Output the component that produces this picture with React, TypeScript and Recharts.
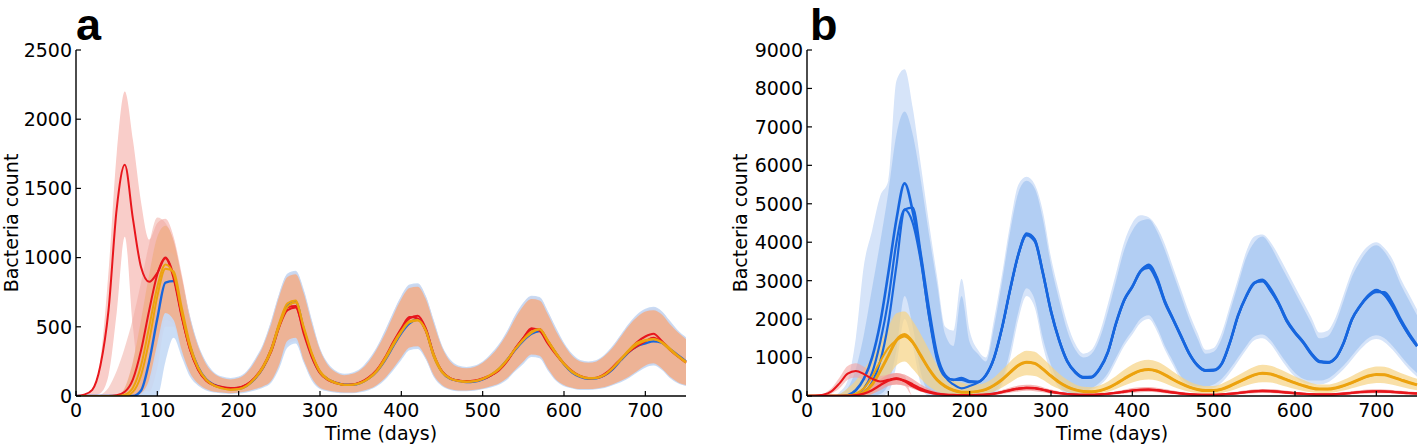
import { ComposedChart, Line, Area, XAxis, YAxis } from "recharts";

// sampling days (every 10 days)
const days = [
  0, 10, 20, 30, 40, 50, 60, 70, 80, 90,
  100, 110, 120, 130, 140, 150, 160, 170, 180, 190,
  200, 210, 220, 230, 240, 250, 260, 270, 280, 290,
  300, 310, 320, 330, 340, 350, 360, 370, 380, 390,
  400, 410, 420, 430, 440, 450, 460, 470, 480, 490,
  500, 510, 520, 530, 540, 550, 560, 570, 580, 590,
  600, 610, 620, 630, 640, 650, 660, 670, 680, 690,
  700, 710, 720, 730, 740, 750,
];

const xTicks = [0, 100, 200, 300, 400, 500, 600, 700];
const aYTicks = [0, 500, 1000, 1500, 2000, 2500];
const bYTicks = [0, 1000, 2000, 3000, 4000, 5000, 6000, 7000, 8000, 9000];

// ---- panel a: lines ----
const aRed1 = [
  0, 10, 45, 220, 620, 1350, 1670, 1280, 930, 825,
  890, 995, 850, 570, 340, 195, 115, 80, 65, 58,
  62, 85, 135, 215, 340, 520, 640, 650, 450, 280,
  165, 115, 92, 80, 82, 98, 130, 185, 270, 380,
  480, 560, 580, 490, 300, 180, 130, 112, 108, 112,
  128, 150, 185, 250, 340, 420, 480, 485, 400, 310,
  235, 180, 145, 130, 130, 150, 200, 265, 330, 390,
  430, 450, 400, 340, 290, 245,
];
const aRed2 = [
  0, 0, 0, 0, 0, 5, 30, 120, 330, 620,
  880, 1000, 870, 580, 340, 190, 110, 75, 60, 55,
  60, 82, 128, 205, 320, 500, 620, 640, 470, 300,
  175, 120, 95, 82, 84, 100, 135, 190, 280, 390,
  490, 570, 560, 470, 290, 175, 128, 110, 105, 108,
  122, 148, 190, 255, 345, 420, 490, 470, 380, 300,
  230, 175, 142, 128, 132, 160, 210, 270, 320, 360,
  395, 420, 390, 335, 285, 240,
];
const aBlue = [
  0, 0, 0, 0, 0, 0, 0, 0, 40, 250,
  560, 820, 830, 600, 360, 210, 120, 80, 60, 50,
  52, 75, 125, 205, 330, 510, 650, 680, 480, 290,
  170, 120, 95, 82, 82, 95, 128, 180, 260, 360,
  455, 525, 555, 480, 290, 175, 125, 110, 100, 104,
  120, 150, 195, 260, 335, 400, 450, 470, 390, 310,
  230, 170, 138, 125, 128, 150, 195, 260, 320, 360,
  380, 395, 385, 340, 295, 250,
];
const aYellow1 = [
  0, 0, 0, 0, 0, 0, 10, 60, 220, 500,
  790, 950, 880, 600, 350, 200, 115, 75, 55, 45,
  50, 75, 130, 215, 340, 530, 670, 690, 490, 300,
  170, 118, 92, 80, 82, 96, 130, 185, 275, 380,
  470, 540, 550, 470, 280, 170, 125, 108, 102, 106,
  122, 152, 192, 258, 340, 405, 455, 480, 395, 305,
  228, 172, 140, 126, 130, 155, 205, 270, 335, 385,
  405, 410, 385, 335, 285, 240,
];
const aYellow2 = [
  0, 0, 0, 0, 0, 0, 0, 30, 150, 400,
  720, 920, 900, 640, 380, 210, 120, 75, 55, 45,
  48, 72, 125, 205, 325, 505, 645, 675, 500, 310,
  180, 122, 95, 82, 82, 94, 125, 178, 262, 365,
  462, 532, 545, 478, 300, 178, 128, 110, 104, 108,
  125, 155, 198, 262, 338, 410, 465, 485, 405, 315,
  235, 178, 145, 130, 132, 152, 200, 262, 325, 372,
  398, 412, 392, 345, 292, 248,
];

// ---- panel a: bands ----
const aPinkLo = [
  0, 0, 0, 20, 150, 600, 1150, 500, 50, 30,
  200, 500, 500, 300, 150, 80, 45, 30, 25, 20,
  25, 35, 50, 70, 110, 220, 380, 400, 250, 120,
  55, 38, 28, 24, 24, 32, 48, 78, 125, 195,
  270, 340, 350, 270, 140, 75, 48, 38, 38, 42,
  52, 68, 88, 125, 185, 240, 290, 280, 190, 115,
  75, 58, 48, 48, 52, 62, 82, 105, 135, 175,
  210, 225, 195, 135, 95, 75,
];
const aPinkHi = [
  0, 10, 40, 260, 900, 1750, 2200, 1850, 1400, 1130,
  1250, 1280, 1150, 880, 580, 370, 240, 165, 135, 125,
  135, 175, 260, 370, 540, 740, 880, 900, 760, 540,
  340, 230, 175, 155, 165, 195, 260, 350, 470, 600,
  720, 800, 810, 720, 540, 360, 260, 215, 205, 215,
  245, 300, 370, 465, 580, 670, 720, 710, 610, 490,
  380, 300, 255, 245, 255, 295, 360, 440, 520, 585,
  625, 640, 610, 540, 470, 420,
];
const aSalmonLo = [
  0, 0, 0, 0, 0, 0, 0, 0, 10, 80,
  300, 550, 520, 320, 160, 85, 48, 30, 24, 20,
  24, 32, 46, 66, 105, 215, 370, 395, 250, 120,
  58, 38, 28, 24, 25, 34, 50, 80, 128, 198,
  275, 345, 355, 275, 145, 78, 50, 40, 40, 44,
  54, 70, 90, 128, 188, 245, 295, 285, 195, 118,
  78, 60, 50, 50, 54, 64, 84, 108, 138, 178,
  215, 230, 198, 138, 98, 78,
];
const aSalmonHi = [
  0, 0, 0, 10, 60, 180, 350, 560, 820, 1100,
  1290, 1250, 1120, 860, 570, 365, 235, 162, 132, 122,
  132, 172, 255, 365, 530, 730, 870, 890, 750, 530,
  335, 225, 172, 152, 162, 192, 255, 345, 462, 590,
  710, 790, 800, 712, 530, 355, 255, 212, 202, 212,
  242, 295, 365, 458, 570, 662, 712, 702, 600, 480,
  375, 295, 252, 242, 252, 292, 355, 435, 515, 578,
  618, 630, 600, 530, 462, 412,
];
const aBlueLo = [
  0, 0, 0, 0, 0, 0, 0, 0, 0, 0,
  0, 250, 420, 280, 140, 75, 40, 25, 18, 15,
  18, 26, 40, 60, 95, 200, 350, 380, 240, 110,
  50, 32, 24, 20, 20, 28, 42, 70, 118, 185,
  260, 330, 340, 265, 135, 70, 44, 35, 35, 38,
  48, 62, 82, 118, 178, 232, 282, 272, 185, 110,
  70, 54, 44, 44, 48, 58, 78, 100, 130, 170,
  205, 220, 190, 130, 92, 72,
];
const aBlueHi = [
  0, 0, 0, 0, 0, 0, 0, 0, 120, 450,
  850, 1050, 1020, 820, 580, 375, 245, 170, 140, 130,
  140, 180, 265, 375, 545, 745, 885, 905, 770, 550,
  345, 235, 180, 160, 170, 200, 265, 355, 475, 605,
  725, 805, 815, 725, 545, 365, 265, 220, 210, 220,
  250, 305, 375, 470, 585, 675, 725, 715, 615, 495,
  385, 305, 260, 250, 260, 300, 365, 445, 525, 590,
  630, 645, 615, 545, 475, 425,
];
const aMainLo = [
  0, 0, 0, 0, 0, 0, 0, 0, 20, 120,
  380, 600, 550, 330, 170, 90, 50, 30, 25, 20,
  25, 35, 50, 70, 110, 230, 400, 420, 260, 130,
  60, 40, 30, 25, 25, 35, 50, 80, 130, 200,
  280, 350, 360, 280, 150, 80, 50, 40, 40, 45,
  55, 70, 90, 130, 190, 250, 300, 290, 200, 120,
  80, 60, 50, 50, 55, 65, 85, 110, 140, 180,
  220, 236, 200, 140, 100, 80,
];
const aMainHi = [
  0, 0, 0, 0, 0, 0, 60, 250, 550, 880,
  1150, 1230, 1120, 850, 560, 360, 230, 160, 130, 120,
  130, 170, 250, 360, 520, 720, 860, 880, 740, 520,
  330, 220, 170, 150, 160, 190, 250, 340, 450, 580,
  700, 780, 790, 700, 520, 350, 250, 210, 200, 210,
  240, 290, 360, 450, 560, 650, 700, 690, 590, 470,
  370, 290, 250, 240, 250, 290, 350, 430, 510, 570,
  610, 620, 590, 520, 460, 410,
];

// ---- panel b: lines ----
const bBlue1 = [
  0, 0, 0, 0, 0, 20, 150, 450, 1000, 1900,
  3200, 4600, 5530, 4800, 3600, 2100, 950, 500, 420, 470,
  380, 370, 550, 1000, 1800, 2800, 3700, 4200, 4050, 3200,
  2200, 1450, 900, 620, 490, 500, 720, 1150, 1900, 2500,
  2850, 3250, 3380, 3050, 2450, 2000, 1550, 1100, 800, 670,
  680, 850, 1400, 2100, 2600, 2950, 3000, 2750, 2400, 1950,
  1650, 1400, 1100, 900, 880, 1000, 1400, 2000, 2350, 2600,
  2730, 2650, 2350, 1950, 1600, 1300,
];
const bBlue2 = [
  0, 0, 0, 0, 0, 0, 40, 200, 600, 1400,
  2500, 4000, 4850, 4500, 3500, 2100, 1000, 500, 300, 200,
  260, 350, 530, 980, 1780, 2780, 3680, 4230, 4080, 3230,
  2230, 1470, 920, 630, 480, 490, 700, 1130, 1880, 2480,
  2830, 3230, 3420, 3100, 2480, 2020, 1570, 1120, 810, 660,
  670, 840, 1380, 2080, 2580, 2930, 3030, 2800, 2430, 1980,
  1670, 1420, 1120, 910, 870, 990, 1380, 1980, 2330, 2580,
  2700, 2700, 2420, 2000, 1640, 1330,
];
const bBlue3 = [
  0, 0, 0, 0, 0, 0, 20, 100, 350, 900,
  1900, 3400, 4850, 4900, 3700, 2300, 1100, 550, 420, 420,
  360, 360, 540, 990, 1790, 2790, 3690, 4180, 4020, 3180,
  2180, 1440, 890, 600, 470, 480, 710, 1140, 1890, 2490,
  2840, 3240, 3330, 3000, 2420, 1980, 1530, 1090, 790, 650,
  660, 830, 1390, 2090, 2590, 2940, 2980, 2730, 2380, 1930,
  1630, 1380, 1080, 880, 860, 980, 1390, 1990, 2340, 2620,
  2760, 2620, 2320, 1930, 1580, 1290,
];
const bYellow1 = [
  0, 0, 0, 0, 0, 0, 30, 100, 300, 650,
  1050, 1450, 1600, 1400, 1050, 700, 420, 250, 150, 100,
  100, 120, 170, 280, 430, 620, 800, 880, 850, 700,
  520, 360, 240, 160, 120, 110, 140, 210, 320, 450,
  570, 660, 690, 650, 550, 430, 320, 230, 170, 140,
  140, 180, 260, 360, 460, 550, 590, 570, 500, 420,
  340, 270, 210, 180, 180, 210, 270, 350, 440, 520,
  560, 550, 490, 420, 350, 290,
];
const bYellow2 = [
  0, 0, 0, 0, 0, 10, 60, 200, 500, 900,
  1250, 1450, 1550, 1380, 1040, 700, 420, 250, 150, 100,
  95, 115, 165, 275, 425, 610, 790, 870, 845, 705,
  525, 365, 245, 165, 122, 112, 138, 205, 315, 445,
  565, 655, 680, 645, 555, 435, 325, 235, 172, 142,
  138, 176, 255, 355, 455, 545, 585, 575, 505, 425,
  345, 275, 215, 182, 178, 205, 265, 345, 435, 515,
  555, 555, 495, 425, 355, 295,
];
const bRed1 = [
  0, 5, 30, 120, 330, 580, 650, 570, 450, 380,
  420, 460, 380, 250, 150, 90, 50, 35, 25, 20,
  20, 25, 38, 62, 105, 155, 195, 215, 205, 165,
  115, 78, 52, 36, 30, 30, 42, 58, 84, 115,
  145, 165, 170, 155, 122, 92, 66, 46, 35, 30,
  30, 42, 58, 78, 104, 124, 134, 128, 112, 92,
  72, 56, 46, 40, 40, 46, 62, 84, 104, 118,
  124, 120, 108, 92, 77, 66,
];
const bRed2 = [
  0, 0, 0, 0, 0, 0, 20, 60, 150, 280,
  400, 450, 400, 300, 190, 110, 60, 35, 25, 20,
  20, 25, 35, 60, 100, 150, 190, 210, 200, 160,
  110, 75, 50, 35, 30, 30, 40, 55, 80, 110,
  140, 160, 165, 150, 120, 90, 65, 45, 35, 30,
  30, 40, 55, 75, 100, 120, 130, 125, 110, 90,
  70, 55, 45, 40, 40, 45, 60, 80, 100, 115,
  120, 118, 105, 90, 75, 65,
];

// ---- panel b: bands ----
const bBlueOutLo = [
  0, 0, 0, 0, 0, 0, 0, 0, 0, 0,
  100, 800, 2000, 1300, 300, 0, 0, 0, 0, 0,
  0, 0, 0, 50, 300, 1000, 2000, 2600, 2300, 1300,
  600, 200, 50, 0, 50, 150, 280, 500, 900, 1300,
  1600, 1900, 2000, 1700, 1200, 800, 400, 200, 150, 150,
  200, 350, 600, 900, 1200, 1450, 1500, 1350, 1050, 750,
  500, 350, 300, 300, 350, 500, 700, 950, 1200, 1400,
  1480, 1400, 1200, 950, 700, 500,
];
const bBlueOutHi = [
  0, 0, 0, 0, 100, 400, 1500, 3400, 4300, 5200,
  5600, 8200, 8500, 7500, 6000, 4500, 3100, 1800, 1700, 3050,
  1700, 1200, 1000, 2000, 3200, 4500, 5500, 5700, 5500, 4800,
  3600, 2700, 1900, 1350, 1100, 1200, 1650, 2400, 3200, 4000,
  4500, 4700, 4650, 4400, 3950, 3350, 2750, 2150, 1650, 1200,
  1250, 1650, 2350, 3050, 3750, 4150, 4200, 4000, 3650, 3250,
  2850, 2450, 2050, 1650, 1700, 2050, 2650, 3250, 3650, 3900,
  4000, 3850, 3550, 3050, 2650, 2250,
];
const bBlueInLo = [
  0, 0, 0, 0, 0, 0, 0, 0, 0, 50,
  300, 1200, 2600, 1800, 600, 100, 0, 0, 0, 0,
  0, 0, 0, 100, 400, 1200, 2200, 2800, 2500, 1500,
  800, 300, 100, 50, 100, 200, 350, 600, 1000, 1400,
  1700, 2000, 2100, 1800, 1300, 900, 500, 300, 250, 250,
  300, 450, 700, 1000, 1300, 1550, 1600, 1450, 1150, 850,
  600, 450, 400, 400, 450, 600, 800, 1050, 1300, 1500,
  1580, 1500, 1300, 1050, 800, 600,
];
const bBlueInHi = [
  0, 0, 0, 0, 50, 200, 700, 1600, 2800, 4000,
  5300, 6800, 7400, 6800, 5600, 4200, 2900, 1600, 1300, 2600,
  1400, 1100, 900, 1800, 3000, 4300, 5300, 5600, 5400, 4600,
  3400, 2500, 1700, 1200, 1000, 1100, 1500, 2200, 3000, 3800,
  4300, 4550, 4600, 4300, 3800, 3200, 2600, 2000, 1500, 1100,
  1150, 1500, 2200, 2900, 3600, 4000, 4150, 3900, 3500, 3100,
  2700, 2300, 1900, 1500, 1550, 1900, 2500, 3100, 3500, 3800,
  3920, 3750, 3400, 2900, 2500, 2100,
];
const bYellowLo = [
  0, 0, 0, 0, 0, 0, 0, 0, 50, 250,
  500, 800, 900, 700, 450, 250, 120, 60, 30, 20,
  20, 30, 60, 120, 220, 350, 480, 540, 520, 420,
  280, 180, 110, 70, 50, 50, 70, 110, 180, 270,
  350, 410, 430, 400, 330, 240, 170, 110, 80, 60,
  60, 80, 130, 200, 270, 330, 360, 350, 300, 240,
  180, 130, 100, 80, 80, 100, 140, 200, 260, 310,
  340, 330, 290, 240, 190, 150,
];
const bYellowHi = [
  0, 0, 0, 0, 50, 200, 400, 700, 1000, 1400,
  1800, 2150, 2200, 1950, 1600, 1200, 800, 550, 400, 350,
  300, 300, 350, 480, 680, 900, 1080, 1180, 1150, 980,
  780, 580, 420, 300, 240, 230, 280, 380, 520, 680,
  820, 910, 940, 900, 790, 640, 500, 380, 300, 260,
  260, 320, 420, 540, 660, 760, 810, 790, 710, 610,
  510, 420, 340, 300, 300, 340, 420, 520, 630, 720,
  770, 760, 690, 600, 520, 450,
];
const bRedLo = [
  0, 0, 0, 0, 0, 0, 0, 0, 50, 150,
  260, 300, 270, 190, 110, 60, 30, 15, 10, 8,
  8, 10, 15, 30, 55, 90, 120, 135, 125, 95,
  60, 40, 25, 15, 12, 12, 18, 28, 45, 65,
  85, 100, 105, 95, 72, 52, 35, 22, 15, 12,
  12, 18, 28, 42, 58, 72, 80, 76, 65, 50,
  38, 28, 22, 18, 18, 22, 32, 45, 58, 68,
  72, 70, 62, 50, 42, 36,
];
const bRedHi = [
  0, 0, 0, 0, 0, 0, 60, 150, 280, 430,
  560, 600, 560, 440, 300, 190, 110, 70, 50, 40,
  40, 50, 65, 100, 155, 220, 270, 290, 280, 230,
  170, 120, 85, 62, 55, 55, 70, 90, 125, 165,
  205, 230, 235, 215, 180, 140, 105, 78, 62, 55,
  55, 70, 92, 120, 150, 175, 185, 180, 160, 135,
  110, 88, 72, 65, 65, 75, 95, 125, 150, 168,
  175, 172, 155, 135, 115, 100,
];
const bRedEarlyLo = [
  0, 0, 10, 60, 200, 420, 480, 420, 300, 250,
  280, 300, 260, 0, 0, 0, 0, 0, 0, 0,
  0, 0, 0, 0, 0, 0, 0, 0, 0, 0,
  0, 0, 0, 0, 0, 0, 0, 0, 0, 0,
  0, 0, 0, 0, 0, 0, 0, 0, 0, 0,
  0, 0, 0, 0, 0, 0, 0, 0, 0, 0,
  0, 0, 0, 0, 0, 0, 0, 0, 0, 0,
  0, 0, 0, 0, 0, 0,
];
const bRedEarlyHi = [
  0, 10, 60, 200, 480, 780, 850, 760, 620, 520,
  560, 600, 520, 0, 0, 0, 0, 0, 0, 0,
  0, 0, 0, 0, 0, 0, 0, 0, 0, 0,
  0, 0, 0, 0, 0, 0, 0, 0, 0, 0,
  0, 0, 0, 0, 0, 0, 0, 0, 0, 0,
  0, 0, 0, 0, 0, 0, 0, 0, 0, 0,
  0, 0, 0, 0, 0, 0, 0, 0, 0, 0,
  0, 0, 0, 0, 0, 0,
];

const RED = "#e8161c";
const BLUE = "#1766de";
const YELLOW = "#eca20e";
const FONT = "DejaVu Sans, Verdana, sans-serif";
const TICK_LEN = 5;

const rowsA = days.map((day, i) => ({
  day,
  red1: aRed1[i],
  red2: aRed2[i],
  blue: aBlue[i],
  yellow1: aYellow1[i],
  yellow2: aYellow2[i],
  pink: [aPinkLo[i], aPinkHi[i]],
  salmon: [aSalmonLo[i], aSalmonHi[i]],
  blueBand: [aBlueLo[i], aBlueHi[i]],
  main: [aMainLo[i], aMainHi[i]],
}));

const rowsB = days.map((day, i) => ({
  day,
  blue1: bBlue1[i],
  blue2: bBlue2[i],
  blue3: bBlue3[i],
  yellow1: bYellow1[i],
  yellow2: bYellow2[i],
  red1: bRed1[i],
  red2: bRed2[i],
  blueOut: [bBlueOutLo[i], bBlueOutHi[i]],
  blueIn: [bBlueInLo[i], bBlueInHi[i]],
  yellowBand: [bYellowLo[i], bYellowHi[i]],
  redBand: [bRedLo[i], bRedHi[i]],
  redEarly: [bRedEarlyLo[i], bRedEarlyHi[i]],
}));

const LeftTick = (p: any) => (
  <g>
    <line x1={p.x} x2={p.x + TICK_LEN} y1={p.y} y2={p.y} stroke="#000" strokeWidth={1.2} />
    <text x={p.x - 4} y={p.y} dy="0.36em" textAnchor="end" fontSize={19} fontFamily={FONT} fill="#000">
      {p.payload.value}
    </text>
  </g>
);
const RightTick = (p: any) => (
  <line x1={p.x} x2={p.x - TICK_LEN} y1={p.y} y2={p.y} stroke="#000" strokeWidth={1.2} />
);
const BottomTick = (p: any) => (
  <g>
    <line x1={p.x} x2={p.x} y1={p.y} y2={p.y - TICK_LEN} stroke="#000" strokeWidth={1.2} />
    <text x={p.x} y={p.y + 21} textAnchor="middle" fontSize={19} fontFamily={FONT} fill="#000">
      {p.payload.value}
    </text>
  </g>
);
const TopTick = (p: any) => (
  <line x1={p.x} x2={p.x} y1={p.y} y2={p.y + TICK_LEN} stroke="#000" strokeWidth={1.2} />
);

const axisLine = { stroke: "#000", strokeWidth: 1.4 };

// frame of four axes, matplotlib-style inward ticks
function frame(yMax: number, yTicks: number[], leftWidth: number) {
  return [
    <XAxis key="xb" dataKey="day" type="number" domain={[0, 750]} ticks={xTicks} interval={0}
      height={49} tickSize={0} tickMargin={0} tickLine={false} axisLine={axisLine} tick={BottomTick} />,
    <XAxis key="xt" xAxisId="top" orientation="top" dataKey="day" type="number" domain={[0, 750]}
      ticks={xTicks} interval={0} height={0} tickSize={0} tickMargin={0} tickLine={false}
      axisLine={axisLine} tick={TopTick} />,
    <YAxis key="yl" type="number" domain={[0, yMax]} ticks={yTicks} interval={0} width={leftWidth}
      tickSize={0} tickMargin={0} tickLine={false} axisLine={axisLine} tick={LeftTick} allowDataOverflow />,
    <YAxis key="yr" yAxisId="right" orientation="right" type="number" domain={[0, yMax]} ticks={yTicks}
      interval={0} width={0} tickSize={0} tickMargin={0} tickLine={false} axisLine={axisLine}
      tick={RightTick} allowDataOverflow />,
  ];
}

function band(key: string, fill: string, opacity = 1) {
  return (
    <Area key={key} dataKey={key} type="monotone" stroke="none" fill={fill} fillOpacity={opacity}
      isAnimationActive={false} activeDot={false} />
  );
}
function line(key: string, color: string, width: number) {
  return (
    <Line key={key} dataKey={key} type="monotone" stroke={color} strokeWidth={width} dot={false}
      activeDot={false} isAnimationActive={false} />
  );
}

function PanelA() {
  return (
    <ComposedChart width={700} height={445} data={rowsA} margin={{ top: 50, right: 14, bottom: 0, left: 0 }}>
      {frame(2500, aYTicks, 76)}
      {band("pink", "#f9cdc9")}
      {band("salmon", "#f0a89e", 0.5)}
      {band("blueBand", "#c4d9f5", 0.9)}
      {band("main", "#f0b08e", 0.92)}
      {line("blue", BLUE, 2.4)}
      {line("red2", RED, 2)}
      {line("red1", RED, 2)}
      {line("yellow2", YELLOW, 2)}
      {line("yellow1", YELLOW, 2)}
    </ComposedChart>
  );
}

function PanelB() {
  return (
    <ComposedChart width={698} height={445} data={rowsB} margin={{ top: 50, right: 1, bottom: 0, left: 0 }}>
      {frame(9000, bYTicks, 87)}
      {band("blueOut", "#d6e4f9")}
      {band("blueIn", "#b0ccf2", 0.95)}
      {band("yellowBand", "#f6d383", 0.7)}
      {band("redEarly", "#f3a4a2", 0.6)}
      {band("redBand", "#f19a98", 0.7)}
      {line("blue2", BLUE, 2.2)}
      {line("blue3", BLUE, 2.2)}
      {line("blue1", BLUE, 2.6)}
      {line("yellow2", YELLOW, 2)}
      {line("yellow1", YELLOW, 3)}
      {line("red1", RED, 2)}
      {line("red2", RED, 2.4)}
    </ComposedChart>
  );
}

export default function App() {
  return (
    <div style={{ position: "relative", width: 1418, height: 445, background: "#fff" }}>
      <style>{"body{margin:0;background:#fff}"}</style>
      <div style={{ position: "absolute", left: 0, top: 0 }}>
        <PanelA />
      </div>
      <div style={{ position: "absolute", left: 720, top: 0 }}>
        <PanelB />
      </div>
      <svg width={1418} height={445} style={{ position: "absolute", left: 0, top: 0, pointerEvents: "none" }}>
        <text x={76} y={40} fontSize={45} fontWeight="bold" fontFamily="Liberation Sans, Arial, sans-serif">a</text>
        <text x={810} y={40} fontSize={45} fontWeight="bold" fontFamily="Liberation Sans, Arial, sans-serif">b</text>
        <text transform="translate(11,223) rotate(-90)" textAnchor="middle" dy="0.35em" fontSize={19} fontFamily={FONT}>
          Bacteria count
        </text>
        <text transform="translate(740,223) rotate(-90)" textAnchor="middle" dy="0.35em" fontSize={19} fontFamily={FONT}>
          Bacteria count
        </text>
        <text x={381} y={440} textAnchor="middle" fontSize={19} fontFamily={FONT}>Time (days)</text>
        <text x={1112} y={440} textAnchor="middle" fontSize={19} fontFamily={FONT}>Time (days)</text>
      </svg>
    </div>
  );
}
